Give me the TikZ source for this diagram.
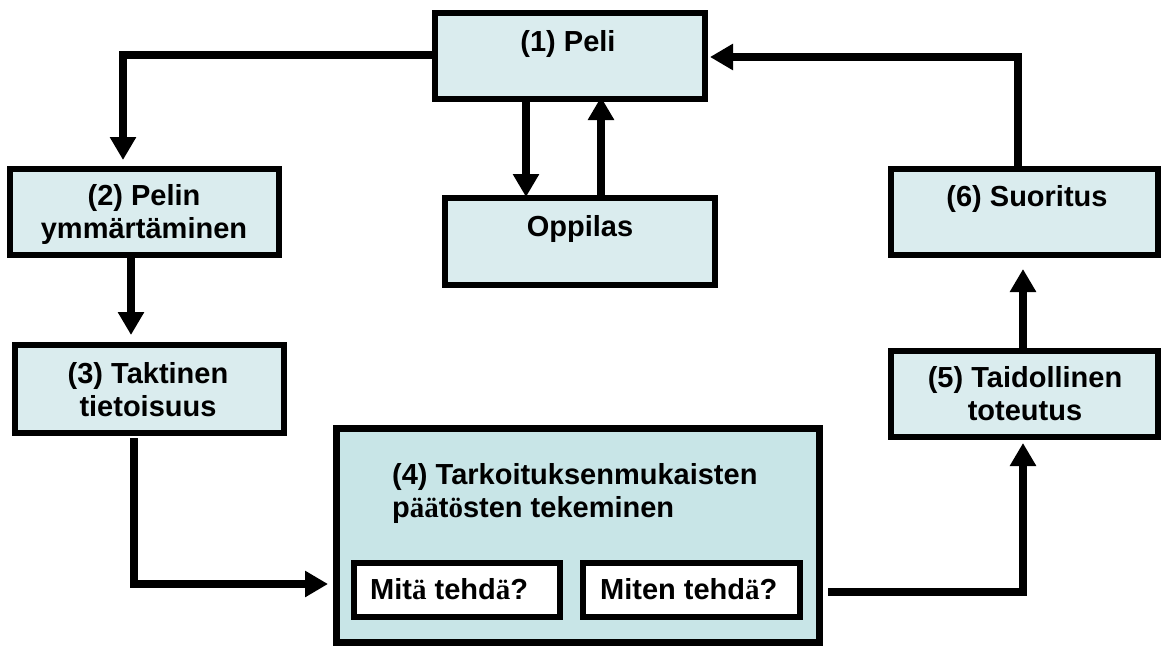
\documentclass[tikz,border=0pt]{standalone}
\usepackage{fontspec}
\setmainfont{Liberation Sans}
\newfontfamily\serifae{Liberation Serif}
\usetikzlibrary{arrows.meta,calc}
\newcommand\sae{{\serifae ä}}
\newcommand\soe{{\serifae ö}}
\definecolor{boxfill}{RGB}{218,236,238}
\definecolor{bigfill}{RGB}{200,229,231}
\begin{document}
\begin{tikzpicture}[x=1pt,y=-1pt,
  box/.style={draw=black, line width=6pt, fill=boxfill, inner sep=0pt, outer sep=0pt},
  bigbox/.style={box, fill=bigfill, line width=7pt},
  qbox/.style={draw=black, line width=5.5pt, fill=white, inner sep=0pt, outer sep=0pt},
  lbl/.style={inner sep=0pt, font=\bfseries\fontsize{29}{33}\selectfont, align=center},
  arr/.style={line width=8pt, line join=miter, -{Triangle[length=23pt,width=25pt]}},
]
\useasboundingbox (0,0) rectangle (1163,646);
% boxes
\node[box, minimum width=270pt, minimum height=86pt] (p1) at (570,56) {};
\node[box, minimum width=270pt, minimum height=87pt] (opp) at (580,241.5) {};
\node[box, minimum width=269pt, minimum height=86pt] (p2) at (144.5,212) {};
\node[box, minimum width=269pt, minimum height=88pt] (p3) at (149.5,389) {};
\node[bigbox, minimum width=483pt, minimum height=214pt] (p4) at (577.5,535) {};
\node[qbox, minimum width=206pt, minimum height=54pt] (qa) at (457,590) {};
\node[qbox, minimum width=217pt, minimum height=54pt] (qb) at (691.5,590) {};
\node[box, minimum width=267pt, minimum height=86pt] (p5) at (1024.5,394) {};
\node[box, minimum width=267pt, minimum height=86pt] (p6) at (1024.5,212) {};
% texts
\node[lbl, anchor=base] (t1) at (568,51) {(1) Peli};
\node[lbl, anchor=base] (topp) at (580,236) {Oppilas};
\node[lbl, anchor=base] (t6) at (1027,206) {(6) Suoritus};
\node[lbl, anchor=base] (t2) at (144,238) {(2) Pelin\\ymmärtäminen};
\node[lbl, anchor=base] (t3) at (148,416) {(3) Taktinen\\tietoisuus};
\node[lbl, anchor=base] (t5) at (1025,420) {(5) Taidollinen\\toteutus};
\node[lbl, anchor=base west, align=left] (t4) at (392,517) {(4) Tarkoituksenmukaisten\\p\sae\sae t\soe sten tekeminen};
\node[lbl, anchor=base west] (ta) at (370,599) {Mit\sae{} tehd\sae?};
\node[lbl, anchor=base west] (tb) at (600,599) {Miten tehd\sae?};
% connectors
\draw[arr] ([yshift=1.5pt]p1.west) -| ([xshift=-21.5pt,yshift=9pt]p2.north);
\draw[arr] ([xshift=-44pt]p1.south) -- ([xshift=-44pt]p1.south |- opp.north) [shorten >=1pt];
\draw[arr] ([xshift=21pt]opp.north) -- ([xshift=21pt]opp.north |- p1.south) [shorten >=-2pt];
\draw[arr] ([xshift=-6.5pt]p6.north) |- ([xshift=5pt,yshift=-1pt]p1.east);
\draw[arr] ([xshift=-13.5pt,yshift=-3pt]p2.south) -- ([xshift=-13.5pt,yshift=10pt]p2.south |- p3.north);
\draw[arr] ([xshift=-15.5pt,yshift=-5pt]p3.south) |- ([xshift=-8pt,yshift=-49pt]p4.west);
\draw[arr] ([xshift=9pt,yshift=-57pt]p4.east) -| ([xshift=-1.5pt,yshift=-6pt]p5.south);
\draw[arr] ([xshift=-1.5pt]p5.north) -- ([xshift=-1.5pt,yshift=-14pt]p6.south);
\end{tikzpicture}
\end{document}
